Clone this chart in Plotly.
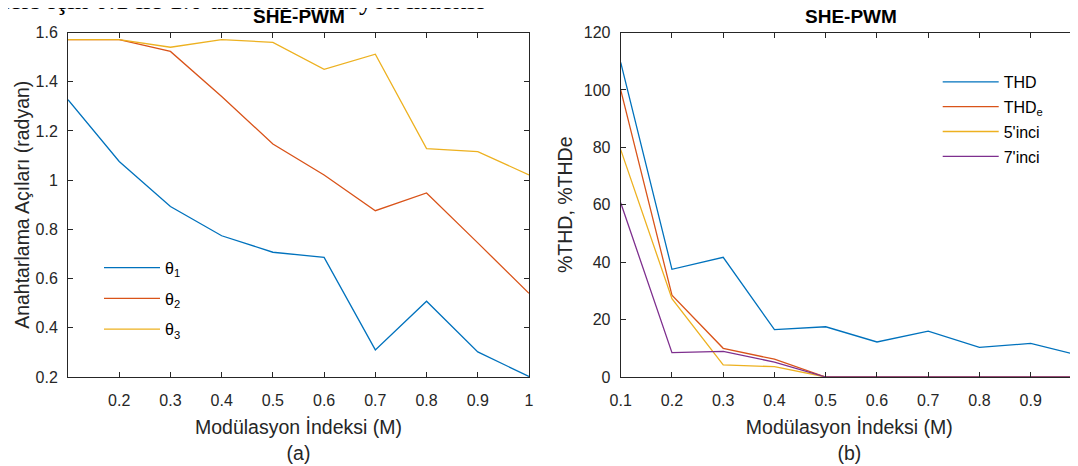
import plotly.graph_objects as go

# ---- data ----
m = [0.1, 0.2, 0.3, 0.4, 0.5, 0.6, 0.7, 0.8, 0.9, 1.0]
theta1 = [1.327, 1.076, 0.893, 0.774, 0.707, 0.686, 0.310, 0.508, 0.302, 0.202]
theta2 = [1.571, 1.571, 1.523, 1.340, 1.147, 1.021, 0.876, 0.948, 0.745, 0.540]
theta3 = [1.571, 1.571, 1.540, 1.571, 1.560, 1.450, 1.512, 1.128, 1.116, 1.021]

thd = [109.6, 37.5, 41.7, 16.5, 17.5, 12.2, 16.0, 10.3, 11.7, 7.3]
thd_e = [100.0, 28.5, 10.0, 6.2, 0, 0, 0, 0, 0, 0]
h5 = [79.2, 27.3, 4.2, 3.6, 0, 0, 0, 0, 0, 0]
h7 = [60.7, 8.5, 8.9, 5.2, 0, 0, 0, 0, 0, 0]

left_names = ["θ<sub>1</sub>", "θ<sub>2</sub>", "θ<sub>3</sub>"]
right_names = ["THD", "THD<sub>e</sub>", "5'inci", "7'inci"]
left_xticks = [0.2, 0.3, 0.4, 0.5, 0.6, 0.7, 0.8, 0.9, 1.0]
left_xticktext = ["0.2", "0.3", "0.4", "0.5", "0.6", "0.7", "0.8", "0.9", "1"]
right_xticks = [0.1, 0.2, 0.3, 0.4, 0.5, 0.6, 0.7, 0.8, 0.9, 1.0]
right_xticktext = ["0.1", "0.2", "0.3", "0.4", "0.5", "0.6", "0.7", "0.8", "0.9", "1"]

colors = ["#0072BD", "#D95319", "#EDB120", "#7E2F8E"]
ink = "#262626"
FONT = "Liberation Sans, Arial, Helvetica, sans-serif"

# page has an 8px body margin: the figure spans page x 8..1078, y 8..466
OFF = 8
W, H = 1078 - OFF, 466 - OFF


def px(xp):
    return (xp - OFF) / W


def py(yp):
    return 1 - (yp - OFF) / H


fig = go.Figure()

for i, (ys, nm) in enumerate(zip([theta1, theta2, theta3], left_names)):
    fig.add_trace(go.Scatter(x=m, y=ys, mode="lines", name=nm,
                             line=dict(color=colors[i], width=1.3),
                             xaxis="x", yaxis="y", legend="legend",
                             legendgroup="L%d" % i))
for i, (ys, nm) in enumerate(zip([thd, thd_e, h5, h7], right_names)):
    fig.add_trace(go.Scatter(x=m, y=ys, mode="lines", name=nm,
                             line=dict(color=colors[i], width=1.3),
                             xaxis="x2", yaxis="y2", legend="legend2",
                             legendgroup="R%d" % i))

ax_common = dict(showline=True, linecolor=ink, linewidth=1, mirror="ticks",
                 ticks="inside", ticklen=5, tickcolor=ink, tickwidth=1,
                 showgrid=False, zeroline=False, automargin=False,
                 tickfont=dict(family=FONT, size=16, color=ink))

x_left = (px(68), px(529))
x_right = (px(620.7), 1.0)
y_dom = (py(377), py(32.5))
right_max = 0.1 + (1078 - 620.7) / 512.5

fig.update_layout(
    width=W, height=H,
    margin=dict(l=0, r=0, t=0, b=0),
    paper_bgcolor="white", plot_bgcolor="white",
    font=dict(family=FONT, color=ink),
    xaxis=dict(domain=x_left, range=[0.1, 1.0], tickvals=left_xticks,
               ticktext=left_xticktext, anchor="y", ticklabelstandoff=9,
               title=dict(text="Modülasyon İndeksi (M)<br>(a)",
                          font=dict(family=FONT, size=19.5, color=ink), standoff=12),
               **ax_common),
    yaxis=dict(domain=y_dom, range=[0.2, 1.6], dtick=0.2, tick0=0.2, anchor="x",
               ticklabelstandoff=6,
               title=dict(text="Anahtarlama Açıları (radyan)",
                          font=dict(family=FONT, size=19.5, color=ink), standoff=0),
               **ax_common),
    xaxis2=dict(domain=x_right, range=[0.1, right_max], tickvals=right_xticks,
                ticktext=right_xticktext, anchor="y2", ticklabelstandoff=9,
                title=dict(text="Modülasyon İndeksi (M)<br>(b)",
                           font=dict(family=FONT, size=19.5, color=ink), standoff=12),
                **ax_common),
    yaxis2=dict(domain=y_dom, range=[0, 120], dtick=20, anchor="x2",
                ticklabelstandoff=6,
                title=dict(text="%THD, %THDe",
                           font=dict(family=FONT, size=19.5, color=ink), standoff=5),
                **ax_common),
    legend=dict(x=px(99), y=py(250.7), xanchor="left", yanchor="top",
                bgcolor="rgba(0,0,0,0)", borderwidth=0, itemwidth=56,
                tracegroupgap=7,
                font=dict(family=FONT, size=16, color="#000000")),
    legend2=dict(x=px(937.7), y=py(65), xanchor="left", yanchor="top",
                 bgcolor="rgba(0,0,0,0)", borderwidth=0, itemwidth=56,
                 tracegroupgap=1,
                 font=dict(family=FONT, size=16, color="#000000")),
    showlegend=True,
)

ann = [
    dict(text="<b>SHE-PWM</b>", x=px((68 + 529) / 2), y=py(16), xref="paper", yref="paper",
         showarrow=False, xanchor="center", yanchor="middle",
         font=dict(family=FONT, size=19, color="#000000")),
    dict(text="<b>SHE-PWM</b>", x=px((620.7 + 1082) / 2), y=py(16), xref="paper", yref="paper",
         showarrow=False, xanchor="center", yanchor="middle",
         font=dict(family=FONT, size=19, color="#000000")),
    dict(text="ters için 0.1 ile 1.0 arası modülasyon indeksi", x=px(0), y=py(0.5),
         xref="paper", yref="paper", showarrow=False, xanchor="left", yanchor="middle",
         font=dict(family="Liberation Serif, Times New Roman, serif", size=27, color="#000000")),
]
fig.update_layout(annotations=ann)

fig.write_html("out.html")
